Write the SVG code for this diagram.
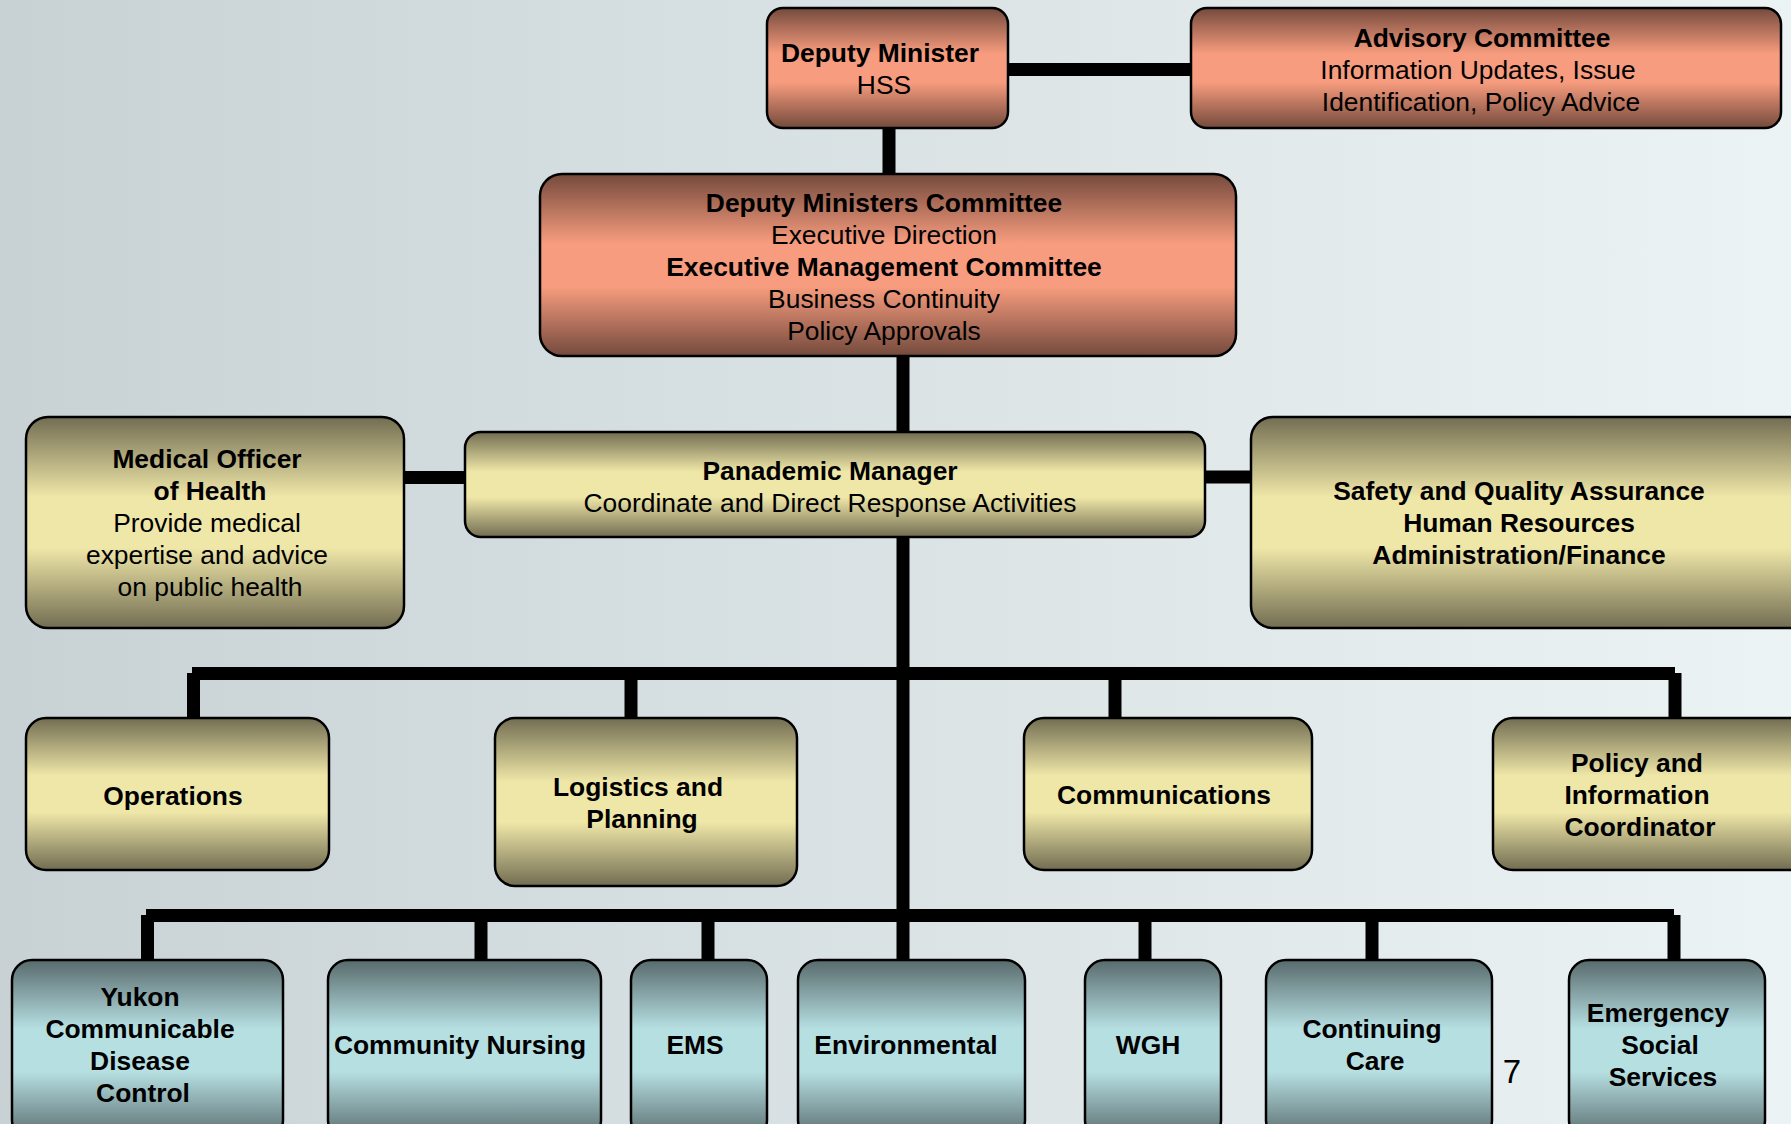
<svg xmlns="http://www.w3.org/2000/svg" width="1791" height="1124" viewBox="0 0 1791 1124">
<defs>
<linearGradient id="bg" x1="0" y1="0" x2="1" y2="0">
<stop offset="0" stop-color="#c8d2d5"/>
<stop offset="1" stop-color="#ecf3f4"/>
</linearGradient>
<linearGradient id="gRed" x1="0" y1="0" x2="0" y2="1">
<stop offset="0" stop-color="#744a3c"/>
<stop offset="0.38" stop-color="#f79c7e"/>
<stop offset="0.62" stop-color="#f79c7e"/>
<stop offset="1" stop-color="#744a3c"/>
</linearGradient>
<linearGradient id="gYel" x1="0" y1="0" x2="0" y2="1">
<stop offset="0" stop-color="#726d52"/>
<stop offset="0.38" stop-color="#efe7a8"/>
<stop offset="0.62" stop-color="#efe7a8"/>
<stop offset="1" stop-color="#726d52"/>
</linearGradient>
<linearGradient id="gTeal" x1="0" y1="0" x2="0" y2="1">
<stop offset="0" stop-color="#586a6c"/>
<stop offset="0.38" stop-color="#b6dfe2"/>
<stop offset="0.62" stop-color="#b6dfe2"/>
<stop offset="1" stop-color="#586a6c"/>
</linearGradient>
<style>
.box{stroke:#000;stroke-width:2.5}
.r{fill:url(#gRed)}
.y{fill:url(#gYel)}
.t{fill:url(#gTeal)}
text{font-family:"Liberation Sans",Arial,sans-serif;font-size:26.4px;fill:#000;text-anchor:middle}
.b{font-weight:bold}
.c{fill:none;stroke:#000;stroke-width:13;stroke-linecap:butt}
</style>
</defs>
<rect x="0" y="0" width="1791" height="1124" fill="url(#bg)"/>

<g id="connectors">
<line class="c" x1="1008" y1="69.5" x2="1191" y2="69.5"/>
<line class="c" x1="889" y1="128" x2="889" y2="174"/>
<line class="c" x1="903" y1="356" x2="903" y2="961"/>
<line class="c" x1="404" y1="477.5" x2="465" y2="477.5"/>
<line class="c" x1="1204" y1="477" x2="1252" y2="477"/>
<line class="c" x1="192" y1="673.5" x2="1675" y2="673.5"/>
<line class="c" x1="193.5" y1="673" x2="193.5" y2="719"/>
<line class="c" x1="631" y1="673" x2="631" y2="719"/>
<line class="c" x1="1115" y1="673" x2="1115" y2="719"/>
<line class="c" x1="1675" y1="673" x2="1675" y2="719"/>
<line class="c" x1="146" y1="915.5" x2="1674" y2="915.5"/>
<line class="c" x1="147.5" y1="915" x2="147.5" y2="961"/>
<line class="c" x1="481" y1="915" x2="481" y2="961"/>
<line class="c" x1="708" y1="915" x2="708" y2="961"/>
<line class="c" x1="1145" y1="915" x2="1145" y2="961"/>
<line class="c" x1="1372" y1="915" x2="1372" y2="961"/>
<line class="c" x1="1674" y1="915" x2="1674" y2="961"/>
</g>

<g id="deputy-minister">
<rect class="box r" x="767" y="8" width="241" height="120" rx="16"/>
<text class="b" x="880" y="62">Deputy Minister</text>
<text x="884" y="94">HSS</text>
</g>

<g id="advisory-committee">
<rect class="box r" x="1191" y="8" width="590" height="120" rx="16"/>
<text class="b" x="1482" y="47">Advisory Committee</text>
<text x="1478" y="79">Information Updates, Issue</text>
<text x="1481" y="111">Identification, Policy Advice</text>
</g>

<g id="deputy-ministers-committee">
<rect class="box r" x="540" y="174" width="696" height="182" rx="22"/>
<text class="b" x="884" y="212">Deputy Ministers Committee</text>
<text x="884" y="244">Executive Direction</text>
<text class="b" x="884" y="276">Executive Management Committee</text>
<text x="884" y="308">Business Continuity</text>
<text x="884" y="340">Policy Approvals</text>
</g>

<g id="medical-officer">
<rect class="box y" x="26" y="417" width="378" height="211" rx="22"/>
<text class="b" x="207" y="468">Medical Officer</text>
<text class="b" x="210" y="500">of Health</text>
<text x="207" y="532">Provide medical</text>
<text x="207" y="564">expertise and advice</text>
<text x="210" y="596">on public health</text>
</g>

<g id="pandemic-manager">
<rect class="box y" x="465" y="432" width="740" height="105" rx="16"/>
<text class="b" x="830" y="480">Panademic Manager</text>
<text x="830" y="512">Coordinate and Direct Response Activities</text>
</g>

<g id="safety-quality">
<rect class="box y" x="1251" y="417" width="560" height="211" rx="22"/>
<text class="b" x="1519" y="500">Safety and Quality Assurance</text>
<text class="b" x="1519" y="532">Human Resources</text>
<text class="b" x="1519" y="564">Administration/Finance</text>
</g>

<g id="operations">
<rect class="box y" x="26" y="718" width="303" height="152" rx="20"/>
<text class="b" x="173" y="805">Operations</text>
</g>

<g id="logistics-planning">
<rect class="box y" x="495" y="718" width="302" height="168" rx="20"/>
<text class="b" x="638" y="796">Logistics and</text>
<text class="b" x="642" y="828">Planning</text>
</g>

<g id="communications">
<rect class="box y" x="1024" y="718" width="288" height="152" rx="20"/>
<text class="b" x="1164" y="804">Communications</text>
</g>

<g id="policy-information">
<rect class="box y" x="1493" y="718" width="318" height="152" rx="20"/>
<text class="b" x="1637" y="772">Policy and</text>
<text class="b" x="1637" y="804">Information</text>
<text class="b" x="1640" y="836">Coordinator</text>
</g>

<g id="yukon-cdc">
<rect class="box t" x="12" y="960" width="271" height="180" rx="20"/>
<text class="b" x="140" y="1006">Yukon</text>
<text class="b" x="140" y="1038">Communicable</text>
<text class="b" x="140" y="1070">Disease</text>
<text class="b" x="143" y="1102">Control</text>
</g>

<g id="community-nursing">
<rect class="box t" x="328" y="960" width="273" height="180" rx="20"/>
<text class="b" x="460" y="1054">Community Nursing</text>
</g>

<g id="ems">
<rect class="box t" x="631" y="960" width="136" height="180" rx="20"/>
<text class="b" x="695" y="1054">EMS</text>
</g>

<g id="environmental">
<rect class="box t" x="798" y="960" width="227" height="180" rx="20"/>
<text class="b" x="906" y="1054">Environmental</text>
</g>

<g id="wgh">
<rect class="box t" x="1085" y="960" width="136" height="180" rx="20"/>
<text class="b" x="1148" y="1054">WGH</text>
</g>

<g id="continuing-care">
<rect class="box t" x="1266" y="960" width="226" height="180" rx="20"/>
<text class="b" x="1372" y="1038">Continuing</text>
<text class="b" x="1375" y="1070">Care</text>
</g>

<g id="emergency-social">
<rect class="box t" x="1569" y="960" width="196" height="180" rx="20"/>
<text class="b" x="1658" y="1022">Emergency</text>
<text class="b" x="1660" y="1054">Social</text>
<text class="b" x="1663" y="1086">Services</text>
</g>

<text x="1512" y="1083" style="font-size:33px">7</text>
</svg>
